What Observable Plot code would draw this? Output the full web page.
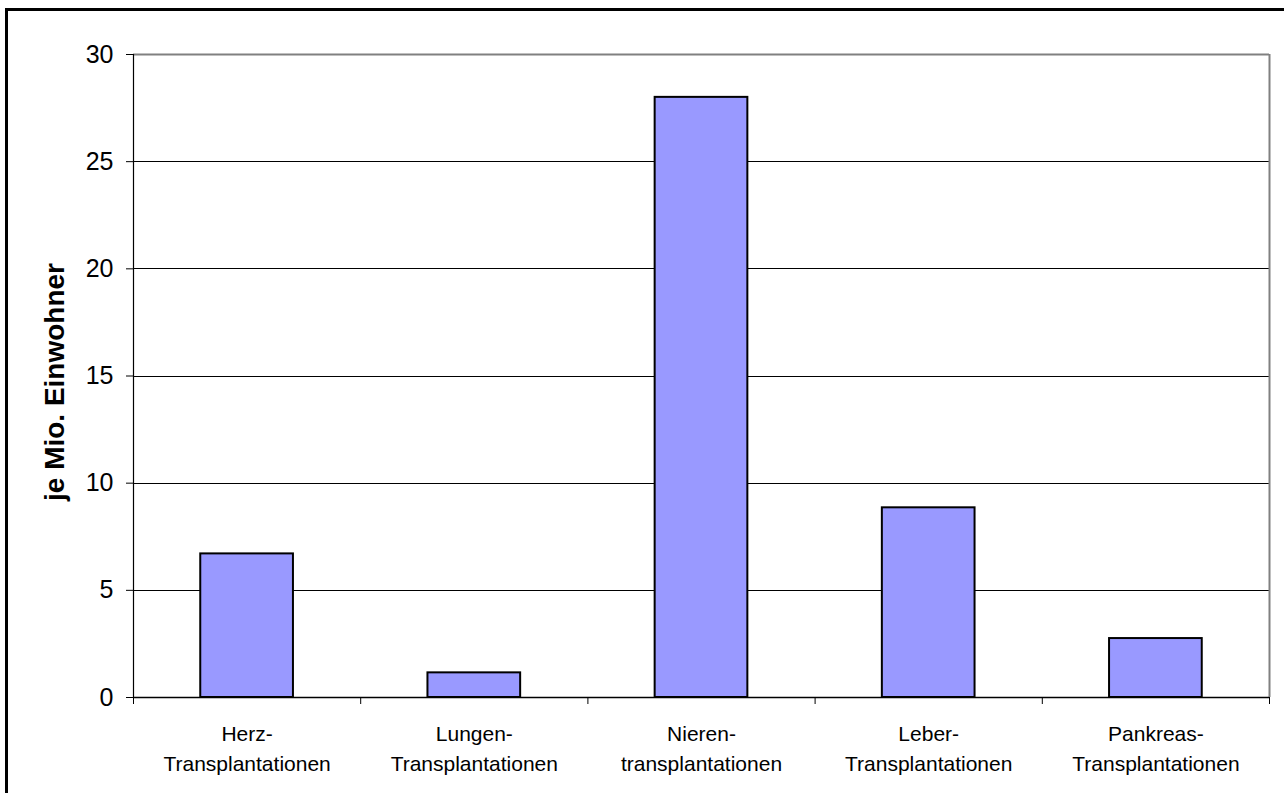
<!DOCTYPE html>
<html>
<head>
<meta charset="utf-8">
<script src="https://cdn.jsdelivr.net/npm/d3@7"></script>
<script src="https://cdn.jsdelivr.net/npm/@observablehq/plot@0.6"></script>
<style>
  html, body { margin: 0; padding: 0; background: #fff; overflow: hidden; width: 1284px; height: 793px; }
  #wrap { position: relative; width: 1284px; height: 793px; overflow: hidden; }
  #frame { position: absolute; left: 5px; top: 8px; width: 1400px; height: 900px; border: 3px solid #000; box-sizing: border-box; }
  #chart { position: absolute; left: 0; top: 0; }
</style>
</head>
<body>
<div id="wrap"><div id="frame"></div><div id="chart"></div></div>
<script>
const categories = [
  "Herz-\nTransplantationen",
  "Lungen-\nTransplantationen",
  "Nieren-\ntransplantationen",
  "Leber-\nTransplantationen",
  "Pankreas-\nTransplantationen"
];
const values = [6.7, 1.15, 28.0, 8.85, 2.75];
const yTicks = [0, 5, 10, 15, 20, 25, 30];
const yTitle = "je Mio. Einwohner";

const data = categories.map((c, i) => ({category: c, index: i, value: values[i]}));
const gap = 0.296;
const font = "'Liberation Sans', Arial, sans-serif";

const chart = Plot.plot({
  width: 1284,
  height: 793,
  marginLeft: 133,
  marginRight: 15,
  marginTop: 54,
  marginBottom: 96,
  style: {fontFamily: font, background: "transparent", color: "#000"},
  x: {type: "linear", domain: [0, categories.length], axis: null},
  y: {domain: [0, 30], axis: null},
  marks: [
    Plot.ruleY(yTicks.filter(v => v > 0 && v < 30), {stroke: "#000", strokeWidth: 1, shapeRendering: "crispEdges"}),
    Plot.ruleY([30], {stroke: "#808080", strokeWidth: 2}),
    Plot.ruleX([categories.length], {stroke: "#808080", strokeWidth: 2}),
    Plot.rectY(data, {
      x1: d => d.index + gap,
      x2: d => d.index + 1 - gap,
      y1: 0,
      y2: "value",
      fill: "#9999FF",
      stroke: "#000",
      strokeWidth: 2
    }),
    Plot.ruleX([0], {stroke: "#000", strokeWidth: 1.2}),
    Plot.ruleY([0], {stroke: "#000", strokeWidth: 1.5}),
    Plot.axisY({
      ticks: yTicks,
      tickSize: 7,
      tickPadding: 13,
      fontSize: 25,
      label: null,
      stroke: "#000"
    }),
    Plot.axisX({
      ticks: d3.range(categories.length + 1),
      tickSize: 7,
      tickFormat: () => "",
      label: null,
      stroke: "#000"
    }),
    Plot.text(data, {
      x: d => d.index + 0.5,
      text: "category",
      frameAnchor: "bottom",
      lineAnchor: "top",
      lineHeight: 1.43,
      dy: 22,
      fontSize: 21,
      fill: "#000"
    }),
    Plot.text([yTitle], {
      text: d => d,
      frameAnchor: "left",
      textAnchor: "middle",
      rotate: -90,
      dx: -78,
      dy: 6,
      fontSize: 28,
      fontWeight: "bold",
      fill: "#000"
    })
  ]
});
document.getElementById("chart").appendChild(chart);
</script>
</body>
</html>
